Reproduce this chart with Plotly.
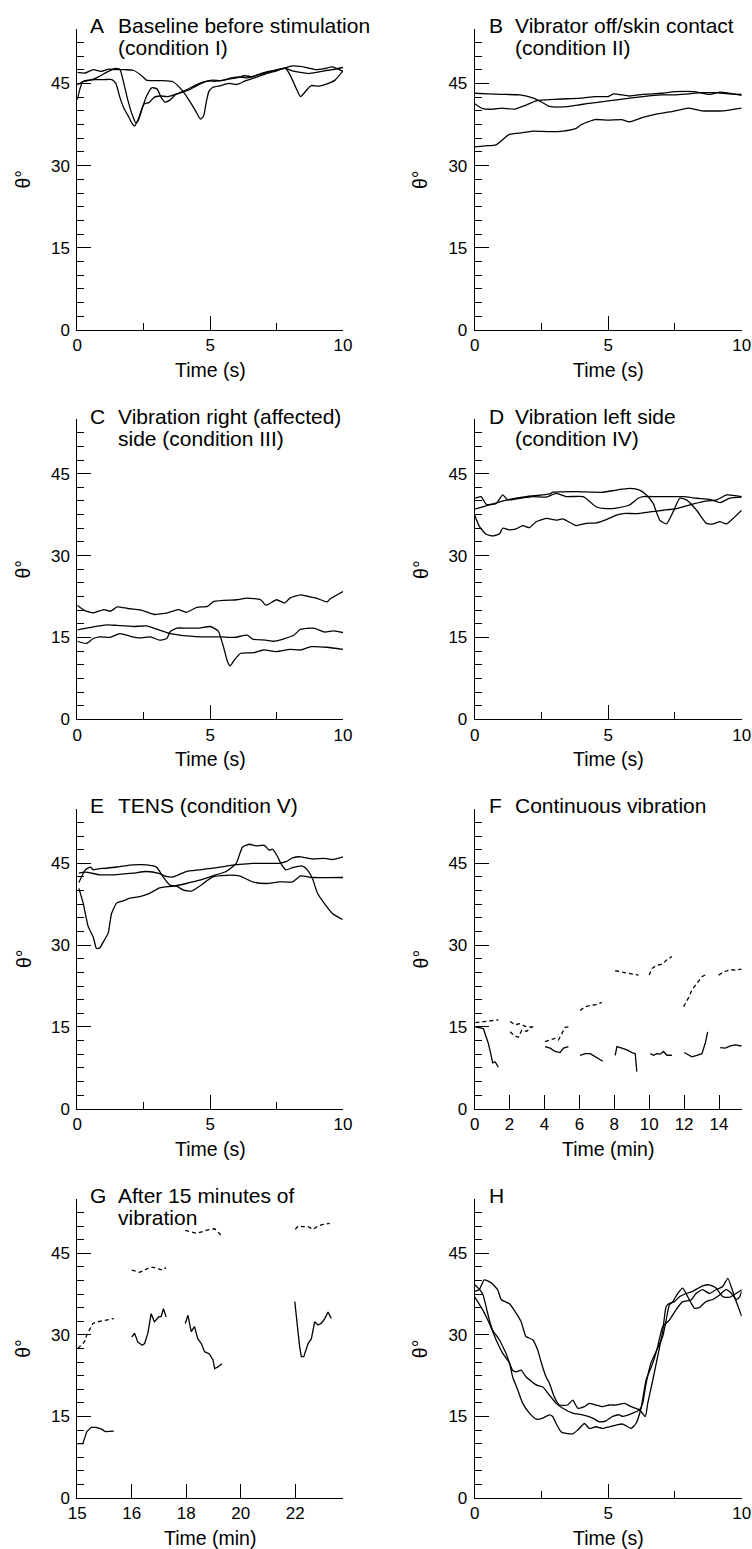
import plotly.graph_objects as go

FONT = "Liberation Sans, Arial, Helvetica, sans-serif"

# ---------------- Panel A: baseline before stimulation (time s, angle deg)
a1_t = [0, 0.3, 0.6, 0.9, 1.2, 1.5, 1.8, 2.1, 2.4, 2.6, 2.9, 3.2, 3.6, 3.9, 4.2, 4.45, 4.63, 4.75, 4.85, 4.95,
        5.1, 5.4, 5.7, 6.0, 6.3, 6.6, 6.9, 7.2, 7.5, 7.8, 8.1, 8.4, 8.7, 9.0, 9.3, 9.6, 10.0]
a1_y = [47.0, 46.9, 47.5, 47.2, 47.6, 47.5, 47.5, 47.4, 46.5, 45.6, 45.5, 45.5, 45.3, 44.0, 42.0, 40.0, 38.5, 39.0, 41.5, 43.5,
        44.3, 44.6, 45.0, 44.8, 45.4, 45.9, 46.4, 46.9, 47.3, 47.8, 48.2, 48.1, 47.8, 47.5, 47.7, 48.0, 47.2]
a2_t = [0, 0.2, 0.5, 0.8, 1.1, 1.4, 1.6, 1.75, 1.9, 2.05, 2.2, 2.3, 2.45, 2.6, 2.8, 3.0, 3.15, 3.3, 3.5, 3.7,
        3.9, 4.2, 4.5, 4.8, 5.1, 5.4, 5.7, 6.0, 6.3, 6.6, 6.9, 7.2, 7.5, 7.8, 8.1, 8.4, 8.7, 9.0, 9.3, 9.6, 10.0]
a2_y = [44.7, 45.3, 45.6, 46.2, 47.0, 47.7, 47.6, 45.0, 42.0, 39.5, 37.8, 38.3, 40.5, 42.6, 44.2, 44.0, 42.5, 41.6, 42.0, 43.0,
        43.3, 43.8, 44.6, 45.3, 45.6, 45.5, 45.8, 46.0, 46.4, 46.2, 46.8, 47.2, 47.4, 47.8, 47.3, 47.0, 46.8, 47.0, 47.3, 47.5, 47.9]
a3_t = [0, 0.1, 0.2, 0.4, 0.7, 1.0, 1.3, 1.45, 1.6, 1.75, 1.9, 2.05, 2.15, 2.3, 2.5, 2.7, 2.9, 3.1, 3.4, 3.7,
        4.0, 4.3, 4.6, 4.9, 5.2, 5.5, 5.8, 6.1, 6.4, 6.7, 7.0, 7.3, 7.6, 7.85, 8.0, 8.2, 8.4, 8.6, 8.8, 9.1, 9.4, 9.7, 10.0]
a3_y = [42.0, 44.0, 45.3, 45.6, 45.7, 45.7, 45.7, 45.0, 42.5, 40.5, 39.2, 37.8, 37.2, 38.5, 41.2, 41.5, 42.5, 42.7, 42.6, 43.0,
        43.6, 44.3, 45.0, 45.4, 45.4, 45.6, 46.0, 46.2, 46.0, 46.4, 46.8, 47.2, 47.6, 47.7, 46.6, 44.5, 42.6, 43.6, 44.6, 44.5, 44.9, 45.6, 47.3]

# ---------------- Panel B: vibrator off / skin contact
b1_t = [0, 0.5, 1.0, 1.7, 2.2, 2.5, 2.8, 3.3, 3.8, 4.2, 5.0, 5.8, 6.3, 7.0, 7.5, 8.0, 8.5, 9.0, 9.5, 10]
b1_y = [43.2, 43.1, 43.0, 42.9, 42.3, 41.6, 40.8, 40.7, 41.0, 41.3, 41.8, 42.3, 42.6, 42.9, 42.9, 43.1, 43.3, 43.3, 43.1, 43.0]
b2_t = [0, 0.3, 0.7, 1.0, 1.5, 1.9, 2.3, 2.6, 3.0, 3.5, 4.0, 4.5, 5.0, 5.2, 5.8, 6.3, 7.0, 7.5, 8.2, 8.8, 9.2, 10]
b2_y = [41.3, 40.4, 40.3, 40.5, 40.3, 41.0, 41.8, 42.0, 42.1, 42.2, 42.3, 42.6, 42.6, 43.1, 42.7, 43.0, 43.2, 43.5, 43.5, 43.0, 43.4, 42.8]
b3_t = [0, 0.4, 0.8, 1.3, 1.8, 2.2, 2.8, 3.3, 3.8, 4.0, 4.5, 5.0, 5.5, 5.8, 6.3, 6.8, 7.3, 7.8, 8.0, 8.5, 9.3, 10]
b3_y = [33.4, 33.6, 33.8, 35.7, 36.0, 36.3, 36.2, 36.3, 36.8, 37.5, 38.4, 38.3, 38.4, 38.0, 38.8, 39.4, 39.8, 40.3, 40.5, 40.0, 40.0, 40.5]

# ---------------- Panel C: vibration right (affected) side
c1_t = [0, 0.25, 0.6, 1.0, 1.25, 1.5, 1.9, 2.4, 2.9, 3.1, 3.4, 3.8, 4.1, 4.5, 4.9, 5.15, 6.0, 6.4, 6.9, 7.1,
        7.5, 7.8, 8.0, 8.4, 8.7, 9.0, 9.4, 9.5, 10]
c1_y = [20.9, 20.0, 19.5, 20.1, 19.8, 20.6, 20.3, 20.0, 19.2, 19.3, 19.5, 20.1, 19.6, 20.5, 20.7, 21.6, 21.9, 22.2, 21.9, 20.9,
        21.9, 21.3, 22.2, 22.8, 22.5, 22.2, 21.5, 22.0, 23.4]
c2_t = [0, 0.35, 1.1, 1.48, 2.1, 2.6, 3.0, 3.5, 4.1, 4.9, 5.4, 5.9, 6.4, 6.6, 7.1, 7.4, 7.8, 8.15, 8.4, 8.9, 9.3, 9.65, 10]
c2_y = [16.4, 16.7, 17.3, 17.2, 17.0, 17.1, 16.5, 15.7, 15.3, 15.1, 15.1, 15.0, 15.4, 14.7, 14.5, 14.3, 14.8, 15.4, 16.5, 16.7, 16.0, 16.2, 15.9]
c3_t = [0, 0.35, 0.6, 0.85, 1.23, 1.6, 2.0, 2.35, 2.75, 3.1, 3.37, 3.5, 3.75, 4.1, 4.6, 5.0, 5.3, 5.5, 5.65, 5.75,
        5.9, 6.15, 6.65, 7.0, 7.5, 8.0, 8.4, 8.8, 9.4, 10]
c3_y = [14.3, 13.9, 14.8, 15.1, 15.0, 15.7, 15.2, 14.9, 15.1, 14.5, 14.8, 16.1, 16.7, 16.7, 16.7, 17.0, 16.2, 13.3, 10.6, 9.8,
        10.8, 12.1, 12.2, 12.7, 12.4, 12.8, 12.7, 13.3, 13.2, 12.8]

# ---------------- Panel D: vibration left side
d1_t = [0, 0.18, 0.43, 0.68, 0.93, 1.05, 1.3, 1.55, 1.8, 2.05, 2.3, 2.68, 3.05, 3.3, 3.55, 3.8, 4.18, 4.56, 4.93, 5.31,
        5.56, 6.06, 6.56, 7.06, 7.56, 8.06, 8.56, 9.06, 9.44, 10]
d1_y = [37.4, 35.3, 33.9, 33.6, 34.0, 35.0, 34.7, 34.9, 35.5, 35.1, 36.2, 36.8, 36.5, 36.7, 36.1, 35.5, 35.9, 36.0, 36.6, 37.4,
        37.7, 37.7, 38.0, 38.3, 38.6, 39.3, 39.9, 40.2, 41.1, 40.8]
d2_t = [0, 0.24, 0.43, 0.8, 1.05, 1.24, 1.68, 2.18, 2.68, 3.05, 3.43, 4.06, 4.56, 4.93, 5.31, 5.81, 6.12, 6.31, 6.81, 7.31,
        7.81, 8.31, 8.81, 9.19, 9.56, 10]
d2_y = [40.5, 40.8, 39.4, 39.5, 41.1, 40.2, 40.5, 40.8, 40.7, 41.4, 40.8, 40.8, 38.9, 38.6, 38.7, 39.3, 40.5, 40.8, 40.8, 40.8,
        40.8, 40.5, 40.3, 39.7, 40.5, 40.7]
d3_t = [0, 0.55, 1.3, 1.93, 2.81, 2.93, 3.81, 4.81, 5.31, 5.81, 6.18, 6.43, 6.68, 6.93, 7.18, 7.43, 7.68, 7.93, 8.31, 8.68,
        8.93, 9.18, 9.43, 9.68, 10]
d3_y = [38.5, 39.3, 40.3, 40.8, 41.3, 41.6, 41.7, 41.6, 42.0, 42.3, 42.0, 41.1, 39.6, 36.5, 35.8, 38.0, 40.5, 40.2, 38.3, 35.9,
        35.8, 36.2, 35.8, 36.8, 38.3]

# ---------------- Panel E: TENS
e1_t = [0.06, 0.22, 0.41, 0.6, 0.72, 0.85, 0.98, 1.16, 1.29, 1.48, 1.72, 1.98, 2.35, 2.72, 3.1, 3.6, 4.1, 4.6, 5.1, 5.6,
        5.98, 6.22, 6.48, 6.72, 7.04, 7.22, 7.35, 7.54, 7.66, 7.85, 8.1, 8.48, 8.66, 8.85, 9.04, 9.29, 9.6, 9.98]
e1_y = [40.4, 37.7, 33.4, 31.5, 29.4, 29.5, 30.6, 32.2, 35.8, 37.7, 38.1, 38.6, 38.9, 39.5, 40.5, 40.8, 41.3, 41.9, 42.7, 43.5,
        45.0, 48.0, 48.5, 48.2, 48.3, 47.4, 47.6, 46.2, 45.0, 43.8, 44.2, 44.5, 43.8, 42.2, 39.5, 37.7, 35.8, 34.7]
e2_t = [0.06, 0.3, 0.5, 0.6, 0.8, 1.1, 1.6, 2.1, 2.6, 2.98, 3.23, 3.48, 3.73, 4.0, 4.3, 4.6, 5.1, 5.6, 6.1, 6.6,
        7.1, 7.6, 8.1, 8.4, 8.85, 10]
e2_y = [41.5, 43.8, 44.3, 43.8, 44.0, 44.1, 44.4, 44.7, 44.7, 44.3, 42.5, 41.0, 40.8, 40.1, 39.9, 40.8, 42.5, 42.8, 42.7, 41.6,
        41.3, 41.6, 41.6, 42.7, 42.4, 42.4]
e3_t = [0.06, 0.3, 0.85, 1.35, 2.1, 2.6, 3.1, 3.35, 3.6, 4.1, 4.6, 5.1, 5.6, 6.1, 6.6, 7.1, 7.6, 7.85, 8.1, 8.4,
        8.85, 9.3, 9.6, 10]
e3_y = [43.2, 43.4, 42.9, 42.9, 43.2, 43.5, 43.1, 42.6, 42.5, 43.5, 43.8, 44.1, 44.5, 44.8, 45.0, 45.0, 45.0, 45.3, 46.0, 46.2,
        45.8, 45.9, 45.7, 46.2]

# ---------------- Panel F: continuous vibration (time min); segments of recordings
f_dash_t = [[0.04, 0.5, 0.88, 1.36],
            [2.03, 2.31, 2.6, 2.89, 3.17, 3.37],
            [2.03, 2.26, 2.5, 2.7, 2.98, 3.27],
            [4.03, 4.32, 4.61, 4.8, 4.99, 5.18, 5.37],
            [6.04, 6.33, 6.71, 7.0, 7.28],
            [8.05, 8.43, 8.81, 9.1, 9.39],
            [10.0, 10.15, 10.44, 10.73, 11.01, 11.3],
            [11.97, 12.26, 12.45, 12.73, 13.02, 13.31],
            [13.98, 14.26, 14.65, 14.93, 15.3]]
f_dash_y = [[15.8, 15.9, 16.1, 16.3],
            [16.0, 15.4, 15.6, 15.1, 15.0, 15.0],
            [14.1, 13.4, 13.1, 14.4, 14.2, 15.0],
            [12.3, 12.6, 12.9, 12.6, 13.8, 14.9, 15.0],
            [18.0, 18.7, 19.0, 19.1, 19.5],
            [25.3, 25.1, 24.8, 24.7, 24.5],
            [24.5, 25.7, 26.3, 26.5, 27.3, 27.9],
            [18.7, 20.4, 21.8, 23.0, 24.2, 24.7],
            [24.5, 25.1, 25.5, 25.4, 25.6]]
f_solid_t = [[0.04, 0.31, 0.5, 0.59, 0.78, 0.92, 1.03, 1.17, 1.36],
             [4.03, 4.32, 4.61, 4.89, 5.09, 5.37],
             [6.04, 6.33, 6.62, 6.9, 7.09, 7.34],
             [8.05, 8.15, 8.43, 8.72, 9.01, 9.2, 9.29],
             [10.06, 10.25, 10.44, 10.63, 10.82, 11.01, 11.3],
             [12.01, 12.26, 12.45, 12.73, 13.02, 13.21, 13.35],
             [14.07, 14.36, 14.65, 14.93, 15.3]]
f_solid_y = [[15.0, 14.8, 14.7, 13.8, 12.0, 10.1, 8.4, 8.6, 7.6],
             [11.4, 11.1, 10.5, 10.3, 11.1, 11.4],
             [9.8, 10.1, 10.1, 9.5, 9.2, 8.7],
             [9.8, 11.4, 11.1, 10.8, 10.3, 10.1, 6.8],
             [10.1, 9.8, 10.1, 10.0, 10.5, 9.8, 9.8],
             [10.3, 9.8, 9.5, 9.8, 10.1, 12.0, 14.1],
             [11.2, 11.1, 11.5, 11.7, 11.5]]

# ---------------- Panel G: after 15 minutes of vibration (axis position, relabelled ticks)
g_tick_pos = [14, 16, 18, 20, 22]
g_tick_text = ["15", "16", "18", "20", "22"]
g_dash_t = [[14.02, 14.14, 14.26, 14.35, 14.44, 14.57, 14.75, 14.93, 15.12, 15.34],
            [16.0, 16.16, 16.28, 16.47, 16.65, 16.8, 16.96, 17.14, 17.26],
            [17.96, 18.18, 18.36, 18.61, 18.79, 19.04, 19.16, 19.28],
            [22.0, 22.1, 22.28, 22.47, 22.65, 22.83, 23.02, 23.26]]
g_dash_y = [[27.5, 28.1, 28.7, 30.0, 30.9, 32.1, 32.4, 32.6, 32.7, 33.0],
            [41.9, 41.7, 41.5, 41.9, 42.4, 42.4, 42.2, 41.9, 42.4],
            [49.2, 48.9, 48.7, 49.0, 49.3, 49.5, 48.9, 48.3],
            [49.4, 50.0, 49.9, 49.9, 49.4, 50.0, 50.3, 50.5]]
g_solid_t = [[14.0, 14.2, 14.35, 14.51, 14.69, 14.87, 15.03, 15.18, 15.34],
             [16.0, 16.1, 16.22, 16.38, 16.47, 16.59, 16.71, 16.83, 16.99, 17.08, 17.16, 17.26],
             [17.96, 18.06, 18.18, 18.3, 18.42, 18.55, 18.67, 18.85, 18.98, 19.04, 19.16, 19.31],
             [21.98, 22.07, 22.16, 22.22, 22.31, 22.47, 22.59, 22.71, 22.83, 22.95, 23.08, 23.2, 23.32]]
g_solid_y = [[10.0, 10.0, 12.2, 13.0, 13.0, 12.7, 12.2, 12.3, 12.3],
             [29.6, 30.3, 28.7, 28.1, 28.4, 30.3, 33.9, 32.4, 33.3, 33.4, 34.8, 33.3],
             [32.1, 33.6, 30.6, 31.5, 29.3, 28.4, 26.9, 26.5, 25.4, 23.8, 24.1, 24.7],
             [36.1, 31.5, 27.8, 26.0, 26.0, 28.4, 29.3, 32.4, 31.8, 32.1, 33.0, 34.2, 33.0]]

# ---------------- Panel H
h1_t = [0, 0.3, 0.55, 0.8, 1.05, 1.3, 1.42, 1.61, 1.8, 2.05, 2.3, 2.55, 2.8, 2.92, 3.05, 3.23, 3.42, 3.67, 3.86, 4.11,
        4.29, 4.54, 4.79, 5.04, 5.29, 5.54, 5.86, 6.04, 6.23, 6.42, 6.67, 6.85, 7.04, 7.29, 7.54, 7.79, 8.1, 8.29, 8.54, 8.79,
        9.04, 9.29, 9.48, 9.73, 10]
h1_y = [37.0, 34.6, 32.1, 29.1, 26.6, 24.8, 22.3, 19.9, 17.4, 15.6, 14.5, 14.7, 15.3, 15.0, 13.7, 12.2, 11.9, 11.8, 12.5, 13.7,
        12.8, 13.1, 12.8, 13.1, 13.4, 13.6, 12.8, 13.7, 16.5, 21.7, 24.8, 27.8, 31.5, 32.7, 34.6, 36.1, 36.4, 37.6, 38.3, 37.6,
        38.3, 38.9, 40.4, 37.0, 33.4]
h2_t = [0, 0.17, 0.3, 0.55, 0.67, 0.92, 1.17, 1.42, 1.55, 1.74, 1.92, 2.3, 2.55, 2.8, 3.05, 3.3, 3.67, 4.04, 4.42, 4.67,
        4.92, 5.17, 5.42, 5.54, 5.92, 6.17, 6.29, 6.42, 6.6, 6.79, 7.04, 7.17, 7.29, 7.42, 7.6, 7.79, 7.98, 8.23, 8.41, 8.66,
        8.91, 9.16, 9.41, 9.6, 9.79, 9.91, 10]
h2_y = [39.2, 38.4, 37.5, 32.7, 30.9, 29.1, 26.6, 23.5, 23.2, 23.5, 22.3, 20.8, 20.4, 18.9, 17.4, 16.5, 15.6, 15.3, 14.7, 14.0,
        14.2, 15.0, 15.3, 15.0, 15.6, 16.2, 17.4, 21.1, 24.8, 26.9, 29.7, 32.7, 35.5, 36.1, 37.6, 38.6, 37.0, 34.9, 35.0, 36.1,
        36.5, 37.3, 38.3, 37.7, 36.5, 36.9, 38.0]
h3_t = [0, 0.17, 0.36, 0.61, 0.86, 0.99, 1.3, 1.55, 1.74, 1.92, 2.17, 2.36, 2.48, 2.67, 2.8, 2.98, 3.17, 3.48, 3.67, 3.86,
        4.11, 4.29, 4.54, 4.79, 5.04, 5.29, 5.61, 5.86, 6.17, 6.39, 6.48, 6.67, 6.85, 7.04, 7.17, 7.29, 7.48, 7.67, 7.92, 8.16,
        8.54, 8.79, 9.04, 9.29, 9.54, 9.79, 10]
h3_y = [38.0, 38.3, 40.1, 39.6, 38.3, 36.5, 35.7, 34.0, 32.4, 29.7, 29.1, 27.2, 25.1, 22.3, 21.1, 18.6, 17.1, 17.1, 18.0, 16.5,
        16.8, 17.4, 17.1, 16.8, 17.1, 17.1, 17.4, 16.8, 16.2, 15.0, 17.4, 21.7, 26.0, 30.6, 35.2, 35.8, 36.1, 37.0, 37.6, 38.0,
        39.0, 39.2, 38.6, 37.0, 36.9, 37.6, 38.3]

# ---------------- Text
panel_letters = ["A", "B", "C", "D", "E", "F", "G", "H"]
panel_line1 = ["Baseline before stimulation", "Vibrator off/skin contact", "Vibration right (affected)",
               "Vibration left side", "TENS (condition V)", "Continuous vibration", "After 15 minutes of", ""]
panel_line2 = ["(condition I)", "(condition II)", "side (condition III)", "(condition IV)", "", "", "vibration", ""]
x_titles = ["Time (s)", "Time (s)", "Time (s)", "Time (s)", "Time (s)", "Time (min)", "Time (min)", "Time (s)"]
y_title = "θ°"
y_ticks = [0, 15, 30, 45]

# ---------------- Layout geometry (pixels)
W, H = 752, 1549
col_px = [(77.3, 343.0), (474.7, 741.7)]
row_px = [(28.6, 330.0), (419.1, 719.3), (808.8, 1108.7), (1198.9, 1498.0)]


def px_x(p):
    return p / W


def px_y(p):
    return 1 - p / H


def join(segs):
    out = []
    for s in segs:
        out += list(s) + [None]
    return out[:-1]


LINE = dict(color="black", width=1.3)
DASH = dict(color="black", width=1.3, dash="4px,3px")

fig = go.Figure()


def add(i, x, y, line, smooth=False):
    s = "" if i == 0 else str(i + 1)
    ln = dict(**line)
    if smooth:
        ln.update(shape="spline", smoothing=0.5)
    fig.add_trace(go.Scatter(x=x, y=y, mode="lines", line=ln,
                             xaxis="x" + s, yaxis="y" + s, showlegend=False, hoverinfo="skip",
                             connectgaps=False))


for t, y in [(a1_t, a1_y), (a2_t, a2_y), (a3_t, a3_y)]:
    add(0, t, y, LINE, True)
for t, y in [(b1_t, b1_y), (b2_t, b2_y), (b3_t, b3_y)]:
    add(1, t, y, LINE, True)
for t, y in [(c1_t, c1_y), (c2_t, c2_y), (c3_t, c3_y)]:
    add(2, t, y, LINE, True)
for t, y in [(d1_t, d1_y), (d2_t, d2_y), (d3_t, d3_y)]:
    add(3, t, y, LINE, True)
for t, y in [(e1_t, e1_y), (e2_t, e2_y), (e3_t, e3_y)]:
    add(4, t, y, LINE, True)
add(5, join(f_dash_t), join(f_dash_y), DASH)
add(5, join(f_solid_t), join(f_solid_y), LINE)
add(6, join(g_dash_t), join(g_dash_y), DASH)
add(6, join(g_solid_t), join(g_solid_y), LINE)
for t, y in [(h1_t, h1_y), (h2_t, h2_y), (h3_t, h3_y)]:
    add(7, t, y, LINE, True)

layout = dict(width=W, height=H, margin=dict(l=0, r=0, t=0, b=0),
              paper_bgcolor="white", plot_bgcolor="white", showlegend=False,
              font=dict(family=FONT, color="black"))

TICKFONT = dict(family=FONT, size=17, color="black")
annotations = []
for i in range(8):
    r, c = divmod(i, 2)
    s = "" if i == 0 else str(i + 1)
    x0, x1 = col_px[c]
    y0, y1 = row_px[r]
    xa = dict(domain=[px_x(x0), px_x(x1)], anchor="y" + s, showline=True, linecolor="black", linewidth=1,
              showgrid=False, zeroline=False, ticks="inside", ticklen=14, tickwidth=1, tickcolor="black",
              tickfont=TICKFONT, fixedrange=True, automargin=False)
    if i == 5:
        xa.update(range=[0, 15.3], tickvals=[0, 2, 4, 6, 8, 10, 12, 14])
    elif i == 6:
        xa.update(range=[14, 23.75], tickvals=g_tick_pos, ticktext=g_tick_text)
    else:
        xa.update(range=[0, 10], tickvals=[0, 5, 10],
                  minor=dict(tickvals=[2.5, 7.5], ticks="inside", ticklen=7, tickwidth=1, tickcolor="black",
                             showgrid=False))
    ya = dict(domain=[px_y(y1), px_y(y0)], anchor="x" + s, range=[0, 55], tickvals=y_ticks,
              showline=True, linecolor="black", linewidth=1, showgrid=False, zeroline=False,
              ticks="inside", ticklen=14, tickwidth=1, tickcolor="black", tickfont=TICKFONT,
              ticklabelstandoff=3,
              minor=dict(tickvals=[2.5 * k for k in range(1, 23) if k % 6 != 0], ticks="inside", ticklen=7,
                         tickwidth=1, tickcolor="black", showgrid=False), fixedrange=True, automargin=False)
    layout["xaxis" + s] = xa
    layout["yaxis" + s] = ya

    # panel letter and title lines
    base1 = y0 + 4.5
    lx = 88.0 if c == 0 else 487.0
    tx = 115.5 if c == 0 else 513.0
    annotations.append(dict(text=panel_letters[i], x=px_x(lx), y=px_y(base1 + 6), xref="paper", yref="paper",
                            xanchor="left", yanchor="bottom", showarrow=False, font=dict(size=21)))
    if panel_line1[i]:
        annotations.append(dict(text=panel_line1[i], x=px_x(tx), y=px_y(base1 + 6), xref="paper", yref="paper",
                                xanchor="left", yanchor="bottom", showarrow=False, font=dict(size=21)))
    if panel_line2[i]:
        annotations.append(dict(text=panel_line2[i], x=px_x(tx), y=px_y(base1 + 22 + 6), xref="paper",
                                yref="paper", xanchor="left", yanchor="bottom", showarrow=False,
                                font=dict(size=21)))
    # axis titles
    annotations.append(dict(text=x_titles[i], x=px_x((x0 + x1) / 2), y=px_y(y1 + 47 + 6), xref="paper",
                            yref="paper", xanchor="center", yanchor="bottom", showarrow=False,
                            font=dict(size=19.5)))
    annotations.append(dict(text=y_title, x=px_x(x0 - 54), y=px_y((y0 + y1) / 2), xref="paper", yref="paper",
                            xanchor="center", yanchor="middle", textangle=-90, showarrow=False,
                            font=dict(size=19.5)))

layout["annotations"] = annotations
fig.update_layout(**layout)
fig.write_html("out.html", config={"displayModeBar": False},
               post_script="document.body.style.margin='0px';document.body.style.overflow='hidden';")
